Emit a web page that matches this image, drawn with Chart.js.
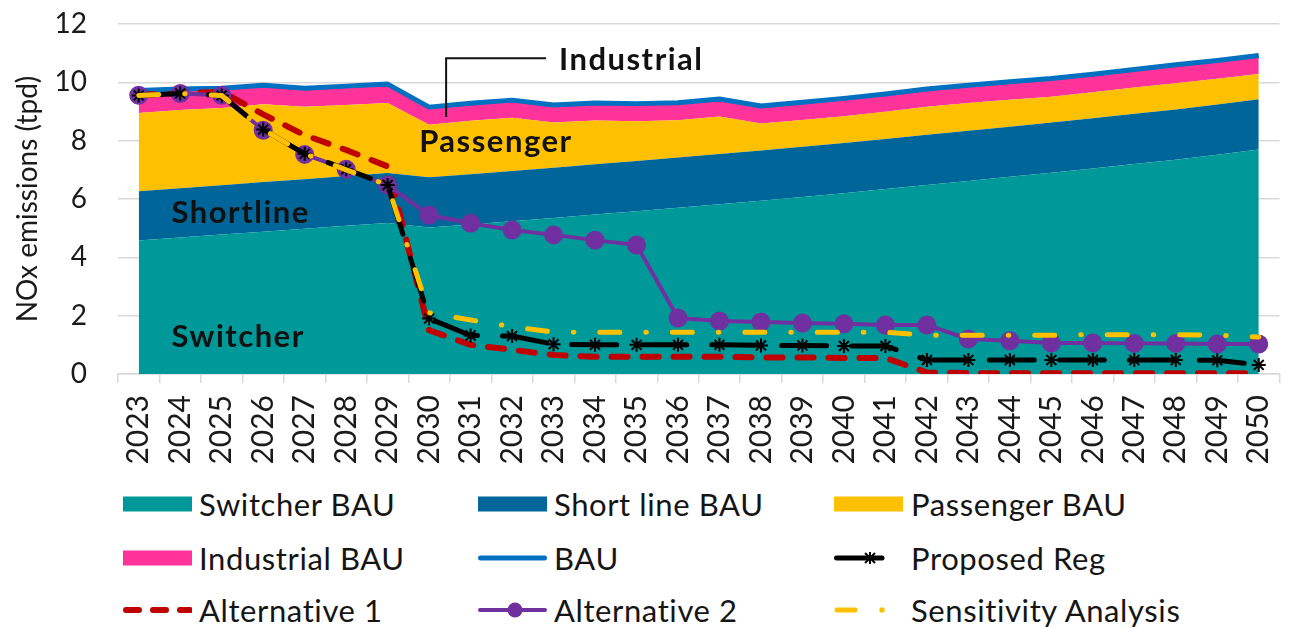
<!DOCTYPE html>
<html lang="en">
<head>
<meta charset="utf-8" />
<title>NOx emissions</title>
<script src="https://cdn.jsdelivr.net/npm/chart.js"></script>
<style>
    body { margin: 0; background: #fff; font-family: Lato, sans-serif; }
    #wrap { position: relative; width: 1291px; height: 627px; }
    #chart { position: absolute; left: 0; top: 0; }
    .item { position: absolute; display: flex; align-items: center; height: 40px; font-size: 31px; letter-spacing: 0.6px; color: #151515; white-space: nowrap; }
    .item svg { margin-right: 7px; }
</style>
</head>
<body>
<div id="wrap">
    <canvas id="chart" width="1291" height="480"></canvas>
    <div id="legend"></div>
</div>

<script>
    // Data (tpd)
    var years = ['2023','2024','2025','2026','2027','2028','2029','2030','2031','2032','2033','2034','2035','2036',
                 '2037','2038','2039','2040','2041','2042','2043','2044','2045','2046','2047','2048','2049','2050'];

    var switcherBAU = [4.58,4.68,4.78,4.88,4.98,5.08,5.18,5.02,5.13,5.24,5.35,5.47,5.58,5.70,
                       5.82,5.94,6.07,6.20,6.34,6.48,6.62,6.76,6.90,7.05,7.20,7.35,7.52,7.70];
    var shortlineBAU = [1.69,1.69,1.69,1.70,1.70,1.71,1.71,1.73,1.72,1.72,1.72,1.72,1.72,1.72,
                        1.72,1.72,1.72,1.72,1.72,1.72,1.72,1.72,1.72,1.72,1.72,1.72,1.72,1.72];
    var passengerBAU = [2.68,2.68,2.65,2.67,2.48,2.43,2.40,1.80,1.83,1.83,1.55,1.50,1.37,1.28,
                        1.29,0.93,0.92,0.92,0.93,0.96,0.95,0.92,0.89,0.89,0.90,0.90,0.88,0.87];
    var industrialBAU = [0.77,0.72,0.68,0.65,0.64,0.65,0.65,0.60,0.60,0.60,0.60,0.60,0.60,0.60,
                         0.60,0.60,0.61,0.61,0.61,0.61,0.61,0.62,0.62,0.62,0.62,0.63,0.63,0.63];
    var bau = [9.72,9.77,9.80,9.90,9.80,9.87,9.94,9.15,9.28,9.39,9.22,9.29,9.27,9.30,
               9.43,9.19,9.32,9.45,9.60,9.77,9.90,10.02,10.13,10.28,10.44,10.60,10.75,10.92];
    var proposedReg = [9.55,9.62,9.55,8.38,7.55,7.02,6.48,1.90,1.32,1.30,1.02,1.00,1.00,1.00,
                       1.00,0.98,0.98,0.96,0.96,0.48,0.48,0.48,0.48,0.48,0.48,0.48,0.47,0.31];
    var alternative1 = [9.58,9.62,9.68,8.90,8.19,7.68,7.12,1.50,1.00,0.83,0.65,0.59,0.59,0.59,
                        0.59,0.57,0.57,0.55,0.55,0.05,0.03,0.03,0.03,0.03,0.03,0.03,0.03,0.03];
    var alternative2 = [9.56,9.62,9.56,8.36,7.53,7.02,6.48,5.45,5.17,4.94,4.77,4.59,4.42,1.92,
                        1.82,1.78,1.75,1.72,1.68,1.68,1.20,1.14,1.06,1.06,1.05,1.05,1.03,1.03];
    var sensitivity = [9.55,9.62,9.55,8.38,7.55,7.00,6.48,2.10,1.85,1.62,1.44,1.43,1.43,1.43,
                       1.43,1.43,1.43,1.43,1.43,1.33,1.33,1.33,1.33,1.35,1.35,1.35,1.33,1.27];

    // Labels written inside the plot: category index and value where the text starts
    var notes = [
        { text: 'Switcher', i: 0.79, v: 1.27 },
        { text: 'Shortline', i: 0.79, v: 5.52 },
        { text: 'Passenger', i: 6.76, v: 7.95 },
        { text: 'Industrial', i: 10.13, v: 10.76 }
    ];
    var leader = [[7.41, 8.81], [7.41, 10.83], [9.82, 10.83]];

    Chart.defaults.font.family = 'Lato';
    Chart.defaults.color = '#1a1a1a';

    // all areas share one order so they stack in dataset order
    function area(label, data, color, fill) {
        return { label: label, data: data, backgroundColor: color, borderColor: color, borderWidth: 0,
                 pointRadius: 0, fill: fill, stack: 'bau', tension: 0, order: 20 };
    }

    var notesPlugin = {
        id: 'notes',
        afterDatasetsDraw: function (chart) {
            var ctx = chart.ctx, x = chart.scales.x, y = chart.scales.y;
            ctx.save();
            ctx.strokeStyle = '#111';
            ctx.lineWidth = 2;
            ctx.beginPath();
            leader.forEach(function (p, k) {
                var px = x.getPixelForValue(p[0]), py = y.getPixelForValue(p[1]);
                if (k === 0) ctx.moveTo(px, py); else ctx.lineTo(px, py);
            });
            ctx.stroke();
            ctx.fillStyle = '#111';
            ctx.font = '700 31px Lato';
            ctx.letterSpacing = '1.5px';
            ctx.textBaseline = 'middle';
            ctx.textAlign = 'left';
            notes.forEach(function (n) {
                ctx.fillText(n.text, x.getPixelForValue(n.i), y.getPixelForValue(n.v));
            });
            ctx.restore();
        }
    };

    var ctx = document.getElementById('chart').getContext('2d');
    var chart = new Chart(ctx, {
        type: 'line',
        data: {
            labels: years,
            datasets: [
                area('Switcher BAU', switcherBAU, '#00999a', 'origin'),
                area('Short line BAU', shortlineBAU, '#006699', '-1'),
                area('Passenger BAU', passengerBAU, '#ffc000', '-1'),
                area('Industrial BAU', industrialBAU, '#ff3399', '-1'),
                { label: 'BAU', data: bau, borderColor: '#0070c0', borderWidth: 5, pointRadius: 0,
                  fill: false, stack: 's1', order: 10, borderJoinStyle: 'round' },
                { label: 'Proposed Reg', data: proposedReg, borderColor: '#000', borderWidth: 5,
                  borderDash: [45, 25], borderCapStyle: 'round', pointStyle: 'star', pointRadius: 7,
                  pointBorderWidth: 2, pointBorderColor: '#000', pointBackgroundColor: '#000',
                  fill: false, stack: 's2', order: 3 },
                { label: 'Alternative 1', data: alternative1, borderColor: '#c00000', borderWidth: 6,
                  borderDash: [16, 15], borderCapStyle: 'round', pointRadius: 0,
                  fill: false, stack: 's3', order: 5 },
                { label: 'Alternative 2', data: alternative2, borderColor: '#7030a0', borderWidth: 4,
                  pointStyle: 'circle', pointRadius: 7.5, pointBackgroundColor: '#7030a0',
                  pointBorderColor: '#7030a0', fill: false, stack: 's4', order: 4 },
                { label: 'Sensitivity Analysis', data: sensitivity, borderColor: '#ffc000', borderWidth: 5,
                  borderDash: [20, 26, 0.5, 26], borderCapStyle: 'round', pointRadius: 0,
                  fill: false, stack: 's5', order: 2 }
            ]
        },
        options: {
            responsive: false,
            animation: false,
            layout: { padding: { top: 24, right: 2, left: 0, bottom: 0 } },
            plugins: { legend: { display: false }, tooltip: { enabled: false } },
            scales: {
                x: {
                    offset: true,
                    grid: { offset: true, drawOnChartArea: false, tickLength: 9, color: '#d9d9d9', lineWidth: 1.5 },
                    border: { color: '#d9d9d9', width: 1.5 },
                    ticks: { minRotation: 90, maxRotation: 90, autoSkip: false, padding: 12, font: { size: 30 } },
                    afterFit: function (s) { s.height = 106; s.paddingLeft = 0; s.paddingRight = 0; }
                },
                y: {
                    stacked: true,
                    min: 0,
                    max: 12,
                    ticks: { stepSize: 2, padding: 31, font: { size: 28 } },
                    grid: { color: '#d9d9d9', lineWidth: 1.5, drawTicks: false },
                    border: { display: false },
                    title: { display: true, text: 'NOx emissions (tpd)', font: { size: 28 }, padding: { top: 11 } },
                    afterFit: function (s) { s.width = 118; s.paddingTop = 0; s.paddingBottom = 0; }
                }
            }
        },
        plugins: [notesPlugin]
    });

    // Legend: three columns, three rows
    var legendItems = [
        { text: 'Switcher BAU', col: 0, row: 0, svg: '<rect x="0" y="2.5" width="69" height="15" fill="#00999a"/>' },
        { text: 'Short line BAU', col: 1, row: 0, svg: '<rect x="0" y="2.5" width="69" height="15" fill="#006699"/>' },
        { text: 'Passenger BAU', col: 2, row: 0, svg: '<rect x="0" y="2.5" width="69" height="15" fill="#ffc000"/>' },
        { text: 'Industrial BAU', col: 0, row: 1, svg: '<rect x="0" y="2.5" width="69" height="15" fill="#ff3399"/>' },
        { text: 'BAU', col: 1, row: 1, svg: '<line x1="2.5" y1="10" x2="66.5" y2="10" stroke="#0070c0" stroke-width="5" stroke-linecap="round"/>' },
        { text: 'Proposed Reg', col: 2, row: 1, svg: '<line x1="2.5" y1="10" x2="48" y2="10" stroke="#000" stroke-width="5" stroke-linecap="round"/>' +
            '<path d="M36 4 L36 16 M31 5 L41 15 M41 5 L31 15" stroke="#000" stroke-width="2"/>' },
        { text: 'Alternative 1', col: 0, row: 2, svg: '<line x1="3" y1="10" x2="67" y2="10" stroke="#c00000" stroke-width="6" stroke-linecap="round" stroke-dasharray="13 14"/>' },
        { text: 'Alternative 2', col: 1, row: 2, svg: '<line x1="2" y1="10" x2="67" y2="10" stroke="#7030a0" stroke-width="4" stroke-linecap="round"/>' +
            '<circle cx="37" cy="10" r="7.5" fill="#7030a0"/>' },
        { text: 'Sensitivity Analysis', col: 2, row: 2, svg: '<line x1="3" y1="10" x2="21" y2="10" stroke="#ffc000" stroke-width="5" stroke-linecap="round"/>' +
            '<circle cx="48" cy="10" r="2.7" fill="#ffc000"/>' }
    ];
    var colX = [123, 478, 834];
    var rowY = [504, 558, 610];
    var legend = document.getElementById('legend');
    legendItems.forEach(function (it) {
        var d = document.createElement('div');
        d.className = 'item';
        d.style.left = colX[it.col] + 'px';
        d.style.top = (rowY[it.row] - 20) + 'px';
        var w = it.col === 2 ? 70 : 69;
        d.innerHTML = '<svg width="' + w + '" height="20" viewBox="0 0 ' + w + ' 20">' + it.svg + '</svg><span>' + it.text + '</span>';
        legend.appendChild(d);
    });
</script>
</body>
</html>
